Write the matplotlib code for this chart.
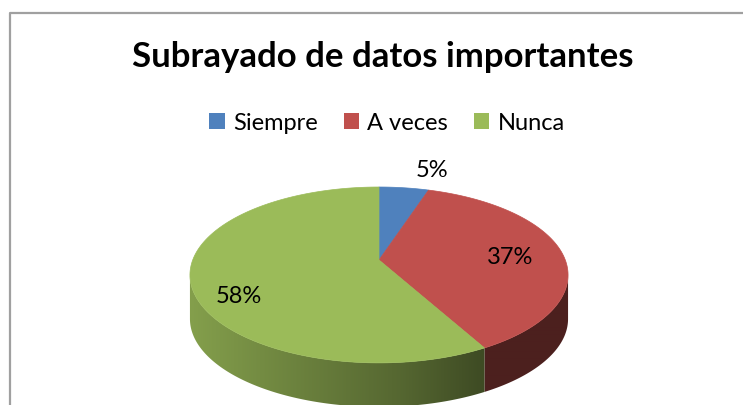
import numpy as np
import matplotlib.pyplot as plt
from matplotlib.patches import Polygon, Patch
from matplotlib.colors import to_rgb

# data
categories = ['Siempre', 'A veces', 'Nunca']
values = [5, 37, 58]
pct_labels = ['5%', '37%', '58%']
colors = ['#4f81bd', '#c0504d', '#9bbb59']
title = 'Subrayado de datos importantes'

plt.rcParams['font.family'] = ['Lato', 'DejaVu Sans']

W, H = 743, 405
fig = plt.figure(figsize=(W / 100, H / 100), dpi=100)
ax = fig.add_axes([0, 0, 1, 1])

# chart frame (only top and left edges are visible in the crop)
ax.plot([9.5, 9.5, W + 5], [H + 5, 12.5, 12.5], color='#a0a0a0', lw=1.6, zorder=0)

# 3D pie geometry (pixels), simple perspective of a tilted disc
cx, cy = 379, 260      # projected centre of the disc
rx, ry = 186.3, 85.4
k = 0.17               # perspective strength
depth = 44


def proj(theta, r=1.0):
    # theta in degrees, clockwise from 12 o'clock
    t = np.radians(theta)
    u, v = r * np.sin(t), r * np.cos(t)
    s = 1.0 / (1.0 + k * v)
    return cx + rx * u * s, cy - ry * v * s


fracs = np.array(values) / sum(values)
bounds = np.concatenate([[0], np.cumsum(fracs)]) * 360

# visible part of the side wall lies between the silhouette angles
sil = np.degrees(np.arccos(-k))
front = (sil, 360 - sil)

# side walls with a left-to-right lighting gradient
xs = np.arange(180, 580)
shade = np.interp(xs, [190, 300, 400, 483, 570], [0.85, 0.69, 0.55, 0.40, 0.40])
for i in range(len(values)):
    a0, a1 = max(bounds[i], front[0]), min(bounds[i + 1], front[1])
    if a1 <= a0:
        continue
    th = np.linspace(a0, a1, 150)
    x, y = proj(th)
    poly = np.column_stack([np.r_[x, x[::-1]], np.r_[y, y[::-1] + depth]])
    clip = Polygon(poly, closed=True, fc='none', ec='none')
    ax.add_patch(clip)
    rgb = np.array(to_rgb(colors[i]))
    img = np.repeat((shade[:, None] * rgb[None, :])[None, :, :], 2, axis=0)
    im = ax.imshow(img, extent=[180, 580, 420, 240], aspect='auto', zorder=1,
                   interpolation='bilinear')
    im.set_clip_path(clip)

# top face
for i in range(len(values)):
    th = np.linspace(bounds[i], bounds[i + 1], 150)
    x, y = proj(th)
    poly = np.column_stack([np.r_[cx, x], np.r_[cy, y]])
    ax.add_patch(Polygon(poly, closed=True, fc=colors[i], ec=colors[i], lw=0.5, zorder=2))

# data labels
mids = (bounds[:-1] + bounds[1:]) / 2
radii = [1.2, 0.7, 0.78]
nudges = [(8, -5), (3, 3), (5, 19)]
aligns = ['left', 'center', 'center']
for lab, m, r, (dx, dy), ha in zip(pct_labels, mids, radii, nudges, aligns):
    x, y = proj(m, r)
    ax.text(x + dx, y + dy, lab, ha=ha, va='center', fontsize=17,
            color='black', zorder=3)

ax.set_xlim(0, W)
ax.set_ylim(H, 0)
ax.axis('off')

fig.text(383 / W, 1 - 57 / H, title, ha='center', va='center',
         fontsize=25, fontweight='bold')

handles = [Patch(fc=c, ec='none') for c in colors]
fig.legend(handles, categories, loc='center', bbox_to_anchor=(387 / W, 1 - 123 / H),
           ncol=3, frameon=False, fontsize=17, handlelength=0.65, handleheight=0.65,
           handletextpad=0.35, columnspacing=1.1)

fig.savefig('out.png', dpi=100)
